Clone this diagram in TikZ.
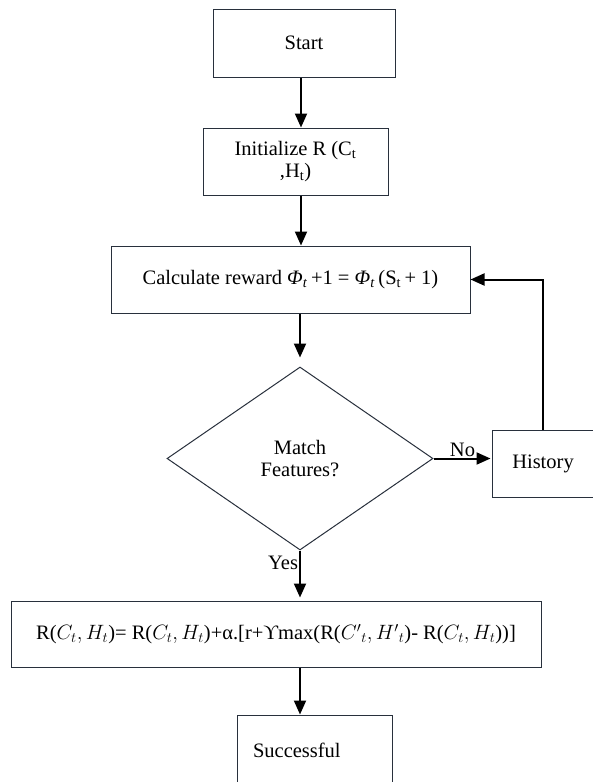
\documentclass[tikz,border=0pt]{standalone}
\usepackage{fontspec}
\setmainfont{Liberation Serif}
\usetikzlibrary{shapes.geometric,arrows.meta}
\tikzset{
  boxnode/.style={draw=boxc, line width=1pt, rectangle, inner sep=0pt, align=center, font=\fontsize{20.5}{22}\selectfont},
  arr/.style={line width=2pt, -{Triangle[length=14pt,width=12pt]}},
  lnk/.style={line width=2pt},
  lbl/.style={font=\fontsize{20.5}{22}\selectfont, inner sep=0pt}
}
\definecolor{boxc}{RGB}{40,48,60}
\begin{document}
\begin{tikzpicture}[x=1pt,y=-1pt]
\useasboundingbox (0,0) rectangle (592,782);
\node[boxnode, minimum width=182pt, minimum height=68pt] (start) at (304,43) {Start};
\node[boxnode, minimum width=185pt, minimum height=67pt] (init) at (295.5,161.5) {Initialize R (C\textsubscript{t}\\,H\textsubscript{t})};
\node[boxnode, minimum width=359pt, minimum height=67pt] (calc) at (290.5,279.5) {Calculate reward \textit{Φ}\textsubscript{\textit{t}}\,+1 = \textit{Φ}\textsubscript{\textit{t}}\,(S\textsubscript{t}\,+ 1)};
\node[boxnode, diamond, aspect=1.45, minimum width=266pt, minimum height=183pt] (dec) at (300,458.5) {Match\\Features?};
\node[boxnode, minimum width=102pt, minimum height=67pt] (hist) at (543,463.5) {History};
\node[boxnode, minimum width=530pt, minimum height=66pt] (form) at (276,634) {R($C_t, H_t$)= R($C_t, H_t$)+α.[r+ϒmax(R($C'{}_t, H'{}_t$)- R($C_t, H_t$))]};
\node[boxnode, minimum width=155pt, minimum height=70pt, text width=123pt, align=left, inner xsep=16pt] (succ) at (314.5,750) {Successful};
\coordinate (ax) at (301,0);
\coordinate (bx) at (300,0);
\draw[arr] (start.south -| ax) -- (init.north -| ax);
\draw[arr] (init.south -| ax) -- (calc.north -| ax);
\draw[arr, shorten >=9pt] (calc.south -| dec.north) -- (dec.north);
\draw[arr, shorten >=1pt] (dec.east) -- (hist.west |- dec.east) node[lbl, midway, above=1pt] (no) {No};
\draw[arr] (hist.north) |- (calc.east);
\draw[arr, shorten >=3pt] (dec.south) -- (form.north -| dec.south) node[lbl, pos=0.25, left=1pt] (yes) {Yes};
\draw[arr] (form.south -| bx) -- (succ.north -| bx);
\end{tikzpicture}
\end{document}
